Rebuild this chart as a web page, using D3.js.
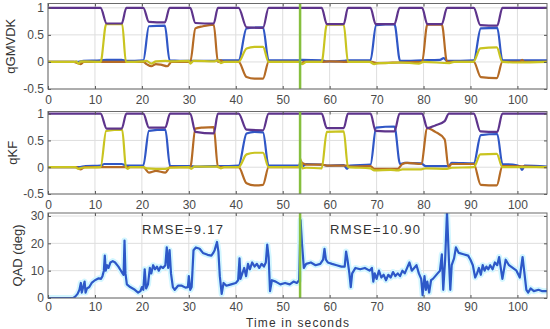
<!DOCTYPE html>
<html lang="en">
  <head>
    <script src="https://d3js.org/d3.v7.min.js"></script>
    <style>
      body {
        margin: 0;
        background: #fff;
      }
      svg {
        display: block;
        font-family: "Liberation Sans", Arial, sans-serif;
      }
      .tick text {
        fill: #4a4a4a;
        font-size: 12px;
      }
      .tick line {
        stroke: #555;
      }
      .grid line {
        stroke: #dedede;
      }
      .frame {
        fill: none;
        stroke: #6a6a6a;
      }
      .qline {
        fill: none;
        stroke-width: 2.2;
        stroke-linejoin: round;
      }
      .label {
        fill: #333;
        font-size: 13px;
      }
    </style>
  </head>

  <body>
    <svg width="550" height="329"></svg>
    <script>
      // tick values shared by the panels
      var timeTicks = [0, 10, 20, 30, 40, 50, 60, 70, 80, 90, 100];
      var quatTicks = [-0.5, 0, 0.5, 1];
      var qadTicks = [0, 10, 20, 30];
      var switchTime = 53.7;

      // qGMVDK components, [time, value]
      var gmPurple = [[0,1],[11.2,1],[12.5,0.71],[15.7,0.71],[16.7,1],[20.3,1],[21.5,0.74],[24.9,0.73],[25.9,1],[30.3,1],[31.4,0.72],[35.3,0.71],[36.2,1],[40.6,1],[42.3,0.64],[45.8,0.63],[47,1],[58.3,1],[59.4,0.7],[63,0.7],[63.9,1],[68.7,1],[69.8,0.7],[73.8,0.7],[74.9,1],[79.7,1],[80.8,0.7],[83.9,0.7],[85,1],[90.7,1],[92.1,0.68],[95.7,0.67],[96.8,1],[106.3,1]];
      var gmBlue = [[0,0],[6.5,0],[7.5,0.02],[11.2,0.03],[12.5,0.04],[15.7,0.04],[16.7,0.02],[20.3,0.03],[21.5,0.66],[24.9,0.67],[25.9,0.03],[30.3,0.02],[35.3,0.02],[36.2,0.03],[40.6,0.03],[42.3,0.62],[45.8,0.64],[47,0.03],[53.5,0.03],[54,0.04],[58.3,0.03],[59.4,0.01],[63,0.02],[63.9,0.03],[68.7,0.03],[69.9,0.68],[73.8,0.7],[75,0.02],[79.7,0.03],[83.5,0.04],[84.3,0.07],[85,0.02],[90.7,0.03],[92.2,0.62],[95.7,0.63],[96.8,0.03],[106.3,0.03]];
      var gmYellow = [[0,0],[5.5,0],[6,0.01],[6.5,-0.03],[7,0.01],[11.2,0],[12.4,0.7],[15.8,0.7],[16.6,0],[20.3,0.01],[21,0.02],[22,-0.03],[23,0.01],[25,0.02],[26.3,0.01],[30,0.02],[30.3,-0.03],[31,0.02],[35.5,0.01],[36.2,0.03],[36.8,-0.02],[37.5,0],[40.6,0],[42.3,0.25],[44,0.28],[45.8,0.28],[47,0],[53.7,0],[54.2,-0.04],[55,0],[58.3,0],[59.4,0.69],[63,0.69],[63.9,0],[68.5,0],[69.5,-0.04],[70.5,-0.02],[72,-0.02],[75,-0.01],[79,-0.03],[80,0],[85.5,-0.02],[86.5,0],[90.6,0],[92.1,0.25],[95.6,0.27],[96.8,0],[100,-0.01],[106.3,0]];
      var gmOrange = [[0,0],[5.5,0],[6.3,-0.02],[7,-0.04],[7.6,0],[11.2,0],[16,0],[20.3,0],[21,-0.04],[22,-0.08],[23,-0.04],[24,-0.05],[25.4,-0.08],[26.3,0],[30.3,0],[31.4,0.62],[33,0.66],[35.3,0.69],[36.2,0],[36.8,0.03],[37.4,0],[40.6,0],[42.3,-0.28],[44,-0.31],[45.8,-0.31],[47,0],[53.5,0],[53.9,-0.03],[54.5,0],[58.3,0],[60,0.01],[63.9,0],[69,0],[70,-0.02],[75,-0.01],[79.7,0],[80.8,0.69],[83.9,0.69],[85,0],[90.7,0],[92.2,-0.28],[95.6,-0.3],[96.8,0],[100.5,0],[101,0.04],[101.5,0],[106.3,0]];

      // qKF components, [time, value]
      var kfPurple = [[0,1],[11.2,1],[12.5,0.72],[15.7,0.72],[16.7,1],[20.3,1],[21.5,0.74],[25,0.74],[26,1],[30.3,1],[31.4,0.66],[35.3,0.63],[36.2,1],[40.6,1],[42.3,0.7],[45.8,0.69],[47,1],[58.3,1],[59.4,0.73],[63,0.73],[63.9,1],[68.7,1],[69.8,0.68],[73.8,0.67],[74.9,1],[79.7,1],[80.8,0.73],[82.5,0.78],[84.5,0.86],[85.4,1],[90.7,1],[92.1,0.67],[95.7,0.66],[96.8,1],[106.3,1]];
      var kfBlue = [[0,0],[6.5,0],[8,0.02],[11.2,0.03],[12,0.06],[15.7,0.06],[16.7,0.03],[20.3,0.03],[21.5,0.68],[25,0.7],[26,0.02],[30.3,0.02],[31.5,0.01],[35.5,0.02],[36.5,0.02],[40.6,0.03],[42.3,0.63],[44,0.66],[45.8,0.65],[47,0.03],[53.5,0.03],[53.9,0.12],[54.3,0.02],[55,0.06],[58.3,0.05],[59.4,0.03],[63,0.04],[63.7,-0.03],[64.3,0.03],[68.7,0.05],[69.9,0.74],[73.8,0.76],[75,0.06],[76,0.08],[79.5,0.07],[80.5,0.02],[85.3,0.02],[86,0.08],[90.7,0.07],[92.2,0.6],[95.7,0.62],[96.8,0.06],[99,0.05],[100.5,0.02],[101,-0.05],[101.5,0.03],[106.3,0.01]];
      var kfYellow = [[0,0],[5.8,0],[6.5,-0.03],[7.2,-0.01],[11.2,0],[12.4,0.68],[15.8,0.7],[16.6,0],[17,-0.03],[17.5,0],[20.3,0],[21,-0.02],[25,-0.03],[26,-0.01],[30,0],[30.5,-0.03],[31.2,0.01],[36.2,0.01],[36.8,-0.02],[37.5,0],[40.6,0],[42.3,0.24],[44,0.27],[45.8,0.27],[47,0],[53.5,0],[53.8,0.15],[54.2,-0.02],[55,-0.01],[58.3,-0.02],[59.4,0.66],[63,0.67],[63.9,0],[68.7,-0.02],[69.5,-0.06],[73,-0.05],[74.5,-0.06],[75.5,-0.04],[79.5,-0.04],[80.5,-0.02],[85,-0.03],[86,-0.01],[90.7,0],[92.1,0.24],[95.6,0.25],[96.8,0],[99,0],[106.3,0]];
      var kfOrange = [[0,0],[6,0],[7,-0.04],[7.8,0],[11.2,0],[16,0],[20.3,0],[21.5,-0.1],[23,-0.07],[25,-0.1],[26,0],[30.3,0],[31.4,0.72],[33,0.74],[35.3,0.75],[36.2,0],[40.6,0],[42.3,-0.3],[44,-0.34],[45.8,-0.33],[47,0],[53.5,0],[54,0.08],[55,0.05],[58.3,0.05],[59.4,0.03],[63.9,0.03],[64.5,0.01],[68.7,0.02],[69.5,-0.03],[74.5,-0.03],[75.5,0.06],[76.5,0.08],[79.5,0.06],[80.8,0.73],[82.5,0.66],[84.5,0.52],[85.3,0],[86,0.06],[90.7,0.06],[92.2,-0.33],[95.6,-0.34],[96.8,0.02],[106.3,0]];

      // quaternion angular distance (deg), [time, value]
      var qad = [[0,0],[5.4,0],[5.8,0.5],[6.3,1.5],[6.7,3],[7,5.5],[7.2,2],[7.5,4],[7.8,6],[8,2],[8.3,3.5],[8.8,4],[9.3,5.5],[10,6.5],[10.8,7.2],[11.3,7],[11.6,8],[11.9,10],[12.1,15.5],[12.3,10],[12.6,12],[12.9,11],[13.3,13],[13.8,13.5],[14.3,13],[15,11.5],[15.7,9.5],[16.1,8.5],[16.3,21],[16.5,9],[16.8,5],[17.5,4],[18.5,3],[19.2,2],[19.7,2.5],[20,4],[20.3,3],[20.6,10.5],[20.9,3.5],[21.3,5],[21.7,11],[22,9],[22.4,12],[22.8,10.5],[23.2,11.5],[23.6,10],[24,11.5],[24.5,11],[25,12],[25.3,18.5],[25.6,11],[25.9,17.5],[26.2,9],[26.6,4],[27,3],[27.7,4.5],[28.5,4.5],[29.3,3.8],[29.8,4],[30,8],[30.3,3],[30.6,4],[31,17.5],[31.5,18.5],[32.3,18],[33,16.5],[34,15.8],[34.8,15.5],[35.2,16.5],[35.5,17.5],[36,20.5],[36.3,17],[36.6,8],[37,1.5],[37.4,5.5],[38,4.5],[39,5],[40,5.5],[40.5,6.5],[40.8,14.5],[41,7],[41.4,9],[41.8,11],[42.2,8],[42.6,12.5],[43,10.5],[43.5,13],[44,11.5],[44.5,12.5],[45,11],[45.5,12.5],[46,11.5],[46.4,13],[46.7,19.5],[47,15],[47.3,2.5],[47.7,6.5],[48.5,6],[49.5,5],[50.5,5.5],[51.5,5],[52.3,6],[53,5.5],[53.5,6.5],[53.8,28.5],[54.1,20],[54.5,11],[55,12.5],[56,13],[57,12],[58,12.5],[58.6,14],[58.9,18],[59.2,14],[59.6,13],[60.5,12.5],[61.5,12],[62.5,11.5],[63.2,11.5],[63.5,17],[63.8,14],[64.2,9],[64.5,4],[64.8,9],[65.5,11],[66.5,10.5],[67.5,11],[68.5,10],[69,11],[69.3,6],[69.6,9],[70,7],[70.5,10],[71,7.5],[71.5,8.5],[72,6.5],[72.5,8.5],[73,7.5],[73.5,9.5],[74,8],[74.5,9],[75,8],[75.5,10],[76,9],[76.5,11],[77,13],[77.5,10],[78,11],[78.5,12],[79,9],[79.5,7],[79.8,1],[80.2,8],[80.5,3],[80.8,6],[81.2,2],[81.6,6.5],[82,7],[82.5,8],[83,9],[83.5,10],[83.9,16],[84.2,3],[84.6,14],[85,31.5],[85.4,14],[85.7,3],[86,12],[86.5,14.5],[86.9,18.5],[87.5,16.5],[88.5,16],[89.5,15.5],[90,14],[90.5,12],[91,7.5],[91.4,9],[91.8,11],[92.2,8.5],[92.6,12],[93,10],[93.4,11.5],[93.8,10.5],[94.2,12],[94.7,10.5],[95.2,13],[95.7,12],[96.1,15],[96.8,7],[97.5,14],[98.2,12],[99,11],[99.8,10],[100.5,7.5],[101.1,15],[101.5,9],[101.9,3],[102.3,2],[102.8,3.5],[103.5,2.5],[104.5,3],[105.3,2.5],[106.3,2.5]];

      var colors = {
        blue: "#3057c6",
        orange: "#b56b25",
        yellow: "#c9c420",
        purple: "#5e348c",
      };

      var svg = d3.select("svg");
      var left = 48,
        right = 547;

      //time scale shared by all three panels
      var x = d3.scaleLinear().domain([0, 106.3]).range([left, right]);

      //draws the grid, frame, ticks and y label of one panel and returns its y scale
      function makePanel(id, top, bottom, yDomain, yTicks, label, labelX, pad) {
        var y = d3.scaleLinear().domain(yDomain).range([bottom, top]);
        var g = svg.append("g");

        svg
          .append("clipPath")
          .attr("id", id)
          .append("rect")
          .attr("x", left)
          .attr("y", top)
          .attr("width", right - left)
          .attr("height", bottom - top);

        //grid
        var grid = g.append("g").attr("class", "grid");
        grid
          .selectAll(".vx")
          .data(timeTicks)
          .enter()
          .append("line")
          .attr("x1", (d) => x(d))
          .attr("x2", (d) => x(d))
          .attr("y1", top)
          .attr("y2", bottom);
        grid
          .selectAll(".hy")
          .data(yTicks)
          .enter()
          .append("line")
          .attr("x1", left)
          .attr("x2", right)
          .attr("y1", (d) => y(d))
          .attr("y2", (d) => y(d));

        var plot = g.append("g").attr("clip-path", "url(#" + id + ")");

        //bottom and left axes with ticks pointing inwards
        g.append("g")
          .attr("transform", "translate(0," + bottom + ")")
          .call(d3.axisBottom(x).tickValues(timeTicks).tickSize(-3).tickPadding(pad).tickFormat((d) => d))
          .call((a) => a.select(".domain").remove());
        g.append("g")
          .attr("transform", "translate(" + left + ",0)")
          .call(d3.axisLeft(y).tickValues(yTicks).tickSize(-3).tickPadding(4).tickFormat((d) => String(d)))
          .call((a) => a.select(".domain").remove());
        //top and right ticks (no labels)
        g.append("g")
          .attr("transform", "translate(0," + top + ")")
          .call(d3.axisTop(x).tickValues(timeTicks).tickSize(-3).tickFormat(""))
          .call((a) => a.select(".domain").remove());
        g.append("g")
          .attr("transform", "translate(" + right + ",0)")
          .call(d3.axisRight(y).tickValues(yTicks).tickSize(-3).tickFormat(""))
          .call((a) => a.select(".domain").remove());

        g.append("rect")
          .attr("class", "frame")
          .attr("x", left)
          .attr("y", top)
          .attr("width", right - left)
          .attr("height", bottom - top);

        g.append("text")
          .attr("class", "label")
          .attr("transform", "translate(" + labelX + "," + (top + bottom) / 2 + ") rotate(-90)")
          .attr("text-anchor", "middle")
          .text(label);

        return { y: y, plot: plot, top: top, bottom: bottom };
      }

      var smooth = function (y) {
        return d3
          .line()
          .x((d) => x(d[0]))
          .y((d) => y(d[1]))
          .curve(d3.curveMonotoneX);
      };

      function drawQuat(panel, series) {
        var line = smooth(panel.y);
        series.forEach(function (s) {
          panel.plot
            .append("path")
            .attr("class", "qline")
            .attr("stroke", s.color)
            .attr("d", line(s.data));
        });
      }

      function drawSwitch(panel) {
        panel.plot
          .append("line")
          .attr("x1", x(switchTime))
          .attr("x2", x(switchTime))
          .attr("y1", panel.top)
          .attr("y2", panel.bottom)
          .attr("stroke", "#86bf3e")
          .attr("stroke-width", 2.5);
      }

      //panel 1: qGMVDK
      var p1 = makePanel("c1", 3.5, 89, [-0.5, 1.08], quatTicks, "qGMVDK", 15, 6);
      drawQuat(p1, [
        { data: gmBlue, color: colors.blue },
        { data: gmOrange, color: colors.orange },
        { data: gmYellow, color: colors.yellow },
        { data: gmPurple, color: colors.purple },
      ]);
      drawSwitch(p1);

      //panel 2: qKF
      var p2 = makePanel("c2", 111.5, 194, [-0.5, 1.04], quatTicks, "qKF", 17, 6);
      drawQuat(p2, [
        { data: kfBlue, color: colors.blue },
        { data: kfOrange, color: colors.orange },
        { data: kfYellow, color: colors.yellow },
        { data: kfPurple, color: colors.purple },
      ]);
      drawSwitch(p2);

      //panel 3: QAD
      var p3 = makePanel("c3", 213, 298, [0, 31.1], qadTicks, "QAD (deg)", 22, 4);
      var qadLine = d3
        .line()
        .x((d) => x(d[0]))
        .y((d) => p3.y(d[1]));
      p3.plot
        .append("path")
        .attr("fill", "none")
        .attr("stroke", "#d2f6ff")
        .attr("stroke-width", 6)
        .attr("stroke-linejoin", "round")
        .attr("d", qadLine(qad));
      p3.plot
        .append("path")
        .attr("class", "qline")
        .attr("stroke", "#2d58c8")
        .attr("d", qadLine(qad));
      drawSwitch(p3);

      //RMSE annotations and x label
      svg.append("text").attr("class", "label").attr("x", 142).attr("y", 234).attr("textLength", 81).text("RMSE=9.17");
      svg.append("text").attr("class", "label").attr("x", 330).attr("y", 234).attr("textLength", 90).text("RMSE=10.90");
      svg
        .append("text")
        .attr("class", "label")
        .attr("x", 246)
        .attr("y", 327)
        .attr("font-size", "12px")
        .style("font-size", "12px")
        .attr("textLength", 103)
        .text("Time in seconds");
    </script>
  </body>
</html>
